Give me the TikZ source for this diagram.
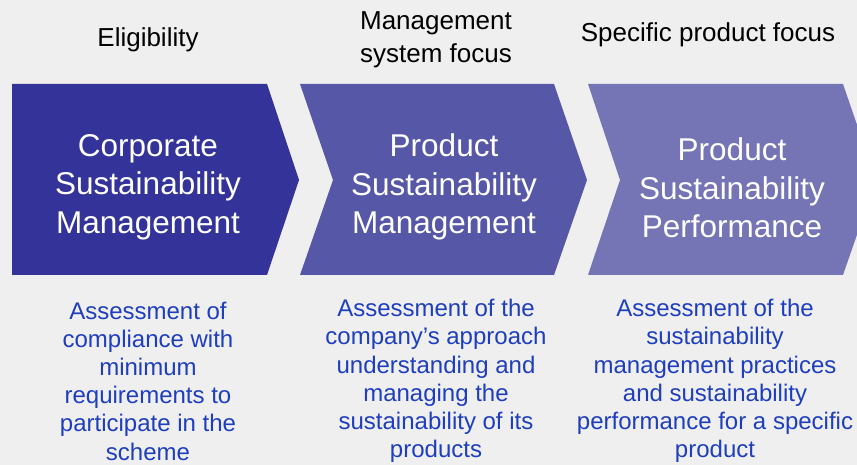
\documentclass[tikz,border=0pt]{standalone}
\usepackage{fontspec}
\setmainfont{Liberation Sans}
\usetikzlibrary{positioning}
\definecolor{sfondo}{RGB}{239,239,239}
\definecolor{blu1}{RGB}{51,51,153}
\definecolor{blu2}{RGB}{87,87,167}
\definecolor{blu3}{RGB}{117,116,181}
\definecolor{testoblu}{RGB}{30,62,190}

\begin{document}
\begin{tikzpicture}[x=1pt,y=-1pt,align=center,inner sep=0pt,
titolo/.style={text=white,font=\fontsize{31.5}{38.5}\selectfont},
fase/.style={text=black,font=\fontsize{26}{32.5}\selectfont},
descr/.style={text=testoblu,font=\fontsize{24}{28.2}\selectfont}
]
\fill[sfondo] (0,0) rectangle (857,465);
\useasboundingbox (0,0) rectangle (857,465);
\clip (0,0) rectangle (857,465);
%--
\fill[blu1] (12,84) -- (267,84) -- (299,180) -- (267,275) -- (12,275) -- cycle;
\fill[blu2] (300,84) -- (554,84) -- (587,180) -- (554,275) -- (300,275) -- (333,180) -- cycle;
\fill[blu3] (588,84) -- (843,84) -- (876,180) -- (843,275) -- (588,275) -- (620,180) -- cycle;
%--
\node[titolo](csm) at (148,187){Corporate\\Sustainability\\Management};
\node[titolo](psm) at (444,187){Product\\Sustainability\\Management};
\node[titolo](psp) at (732,188){Product\\Sustainability\\Performance};
%--
\node[fase](fa) at (148,40){Eligibility};
\node[fase](fb) at (436,40){Management\\system focus};
\node[fase](fc) at (708,35){Specific product focus};
%--
\node[descr](da) at (148,381){Assessment of\\compliance with\\minimum\\requirements to\\participate in the\\scheme};
\node[descr](db) at (436,381){Assessment of the\\company’s approach\\understanding and\\managing the\\sustainability of its\\products};
\node[descr](dc) at (715,381){Assessment of the\\sustainability\\management practices\\and sustainability\\performance for a specific\\product};
\end{tikzpicture}
\end{document}
